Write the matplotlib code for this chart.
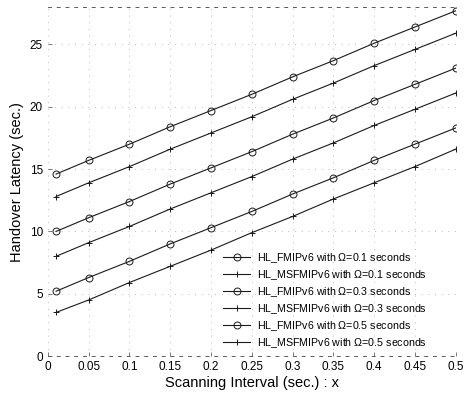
import matplotlib
matplotlib.use("Agg")
import matplotlib.pyplot as plt

# scanning interval (sec.)
scan_x = [0.01, 0.05, 0.10, 0.15, 0.20, 0.25, 0.30, 0.35, 0.40, 0.45, 0.50]

# handover latency (sec.)
fmip_01 = [14.6, 15.7, 17.0, 18.4, 19.7, 21.0, 22.4, 23.7, 25.1, 26.4, 27.7]
msfmip_01 = [12.8, 13.9, 15.2, 16.6, 17.9, 19.2, 20.6, 21.9, 23.3, 24.6, 25.9]
fmip_03 = [10.0, 11.1, 12.4, 13.8, 15.1, 16.4, 17.8, 19.1, 20.5, 21.8, 23.1]
msfmip_03 = [8.0, 9.1, 10.4, 11.8, 13.1, 14.4, 15.8, 17.1, 18.5, 19.8, 21.1]
fmip_05 = [5.2, 6.3, 7.6, 9.0, 10.3, 11.6, 13.0, 14.3, 15.7, 17.0, 18.3]
msfmip_05 = [3.5, 4.5, 5.9, 7.2, 8.5, 9.9, 11.2, 12.6, 13.9, 15.2, 16.6]

series = [
    (fmip_01, 'HL_FMIPv6 with $\\Omega$=0.1 seconds', 'o'),
    (msfmip_01, 'HL_MSFMIPv6 with $\\Omega$=0.1 seconds', '+'),
    (fmip_03, 'HL_FMIPv6 with $\\Omega$=0.3 seconds', 'o'),
    (msfmip_03, 'HL_MSFMIPv6 with $\\Omega$=0.3 seconds', '+'),
    (fmip_05, 'HL_FMIPv6 with $\\Omega$=0.5 seconds', 'o'),
    (msfmip_05, 'HL_MSFMIPv6 with $\\Omega$=0.5 seconds', '+'),
]

plt.rcParams['font.family'] = ['Liberation Sans', 'DejaVu Sans']
plt.rcParams['mathtext.fontset'] = 'custom'
plt.rcParams['mathtext.rm'] = 'Liberation Sans'
plt.rcParams['mathtext.it'] = 'Liberation Sans'

fig = plt.figure(figsize=(4.65, 3.93), dpi=100)
ax = fig.add_axes([0.103, 0.094, 0.877, 0.888])

for ys, label, mk in series:
    if mk == 'o':
        ax.plot(scan_x, ys, '-', color='0.1', lw=0.8, marker='o', ms=5,
                mfc='none', mec='0.1', mew=0.7, label=label)
    else:
        ax.plot(scan_x, ys, '-', color='0.1', lw=0.8, marker='+', ms=4,
                mew=0.7, label=label)

ax.set_xlim(0, 0.5)
ax.set_ylim(0, 28)
ax.set_xticks([0, 0.05, 0.1, 0.15, 0.2, 0.25, 0.3, 0.35, 0.4, 0.45, 0.5])
ax.set_xticklabels(['0', '0.05', '0.1', '0.15', '0.2', '0.25', '0.3',
                    '0.35', '0.4', '0.45', '0.5'])
ax.set_yticks([0, 5, 10, 15, 20, 25])
ax.tick_params(direction='in', labelsize=8.5, length=3, width=0.6, color='0.4')

ax.grid(True, linestyle=(0, (1, 7)), color='0.65', lw=0.6)
for side in ['left', 'right']:
    ax.spines[side].set_visible(False)
for side in ['top', 'bottom']:
    ax.spines[side].set_linestyle((0, (3, 6)))
    ax.spines[side].set_color('0.35')
    ax.spines[side].set_linewidth(0.7)

ax.set_xlabel('Scanning Interval (sec.) : x', fontsize=10.5, labelpad=2)
ax.set_ylabel('Handover Latency (sec.)', fontsize=10.5, labelpad=4)

ax.legend(loc='lower right', bbox_to_anchor=(0.945, 0.0), fontsize=7.7,
          frameon=False, labelspacing=0.3, handlelength=2.6,
          handletextpad=0.6, borderaxespad=0.2)

fig.savefig('out.png', dpi=100)
